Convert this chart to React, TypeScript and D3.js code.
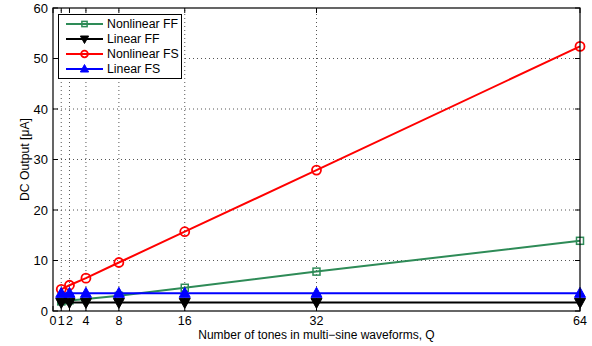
import React from "react";
import * as d3 from "d3";

const xValues = [1, 2, 4, 8, 16, 32, 64];
const nonlinearFF = [1.9, 2.1, 2.4, 3.0, 4.6, 7.8, 13.9];
const linearFF = [1.7, 1.7, 1.7, 1.7, 1.7, 1.7, 1.7];
const nonlinearFS = [4.3, 5.1, 6.5, 9.6, 15.7, 27.9, 52.4];
const linearFS = [3.5, 3.5, 3.5, 3.5, 3.5, 3.5, 3.5];
const xTicks = [0, 1, 2, 4, 8, 16, 32, 64];
const yTicks = [0, 10, 20, 30, 40, 50, 60];
const seriesNames = ["Nonlinear FF", "Linear FF", "Nonlinear FS", "Linear FS"];

const W = 592, H = 346;
const m = { left: 53, right: 12, top: 8, bottom: 35 };

export default function App() {
  const x = d3.scaleLinear().domain([0, 64]).range([m.left, W - m.right]);
  const y = d3.scaleLinear().domain([0, 60]).range([H - m.bottom, m.top]);
  const line = d3.line<[number, number]>().x(d => x(d[0])).y(d => y(d[1]));
  const series = [
    { name: seriesNames[0], vals: nonlinearFF, color: "#2e8b57", marker: "square" },
    { name: seriesNames[1], vals: linearFF, color: "#000000", marker: "down" },
    { name: seriesNames[2], vals: nonlinearFS, color: "#ff0000", marker: "circle" },
    { name: seriesNames[3], vals: linearFS, color: "#0000ff", marker: "up" },
  ];
  const font = "Liberation Sans, Arial, sans-serif";
  const marker = (type: string, cx: number, cy: number, color: string, key: string, s = 1) => {
    if (type === "square") return <rect key={key} x={cx - 3.5 * s} y={cy - 3.5 * s} width={7 * s} height={7 * s} fill="none" stroke={color} strokeWidth={1.5} />;
    if (type === "circle") return <circle key={key} cx={cx} cy={cy} r={4.5 * s} fill="none" stroke={color} strokeWidth={1.8} />;
    if (type === "up") return <path key={key} d={`M${cx},${cy - 6 * s}L${cx + 5.5 * s},${cy + 4 * s}L${cx - 5.5 * s},${cy + 4 * s}Z`} fill={color} stroke={color} strokeWidth={1} />;
    return <path key={key} d={`M${cx},${cy + 6 * s}L${cx + 5.5 * s},${cy - 4 * s}L${cx - 5.5 * s},${cy - 4 * s}Z`} fill={color} stroke={color} strokeWidth={1} />;
  };
  const x0 = m.left, x1 = W - m.right, y0 = H - m.bottom, y1 = m.top;
  return (
    <svg width={W} height={H} style={{ position: "absolute", left: 0, top: 0 }} fontFamily={font}>
      <rect x={0} y={0} width={W} height={H} fill="#fff" />
      {/* grid */}
      {yTicks.filter(t => t > 0 && t < 60).map(t => (
        <line key={"gy" + t} x1={x0} x2={x1} y1={y(t)} y2={y(t)} stroke="#555" strokeWidth={1} strokeDasharray="1,3" />
      ))}
      {xTicks.filter(t => t > 0 && t < 64).map(t => (
        <line key={"gx" + t} x1={x(t)} x2={x(t)} y1={y0} y2={y1} stroke="#555" strokeWidth={1} strokeDasharray="1,3" />
      ))}
      {/* ticks */}
      {yTicks.map(t => (
        <g key={"ty" + t}>
          <line x1={x0} x2={x0 + 5} y1={y(t)} y2={y(t)} stroke="#000" />
          <line x1={x1} x2={x1 - 5} y1={y(t)} y2={y(t)} stroke="#000" />
          <text x={x0 - 5} y={y(t)} dy="0.35em" textAnchor="end" fontSize={13}>{t}</text>
        </g>
      ))}
      {xTicks.map(t => (
        <g key={"tx" + t}>
          <line x1={x(t)} x2={x(t)} y1={y0} y2={y0 - 5} stroke="#000" />
          <line x1={x(t)} x2={x(t)} y1={y1} y2={y1 + 5} stroke="#000" />
          <text x={x(t)} y={y0 + 14} textAnchor="middle" fontSize={12.5}>{t}</text>
        </g>
      ))}
      {/* series */}
      {series.map(s => {
        const pts = xValues.map((xv, i) => [xv, s.vals[i]] as [number, number]);
        return (
          <g key={s.name}>
            <path d={line(pts) || ""} fill="none" stroke={s.color} strokeWidth={2} />
            {pts.map((p, i) => marker(s.marker, x(p[0]), y(p[1]), s.color, s.name + i))}
          </g>
        );
      })}
      <rect x={x0} y={y1} width={x1 - x0} height={y0 - y1} fill="none" stroke="#000" strokeWidth={1.2} />
      {/* legend */}
      <g>
        <rect x={58.5} y={14.5} width={123} height={64} fill="#fff" stroke="#000" strokeWidth={1} />
        {series.map((s, i) => {
          const ly = 24 + i * 15;
          return (
            <g key={"lg" + s.name}>
              <line x1={66} x2={103} y1={ly} y2={ly} stroke={s.color} strokeWidth={2} />
              {marker(s.marker, 84.5, ly, s.color, "lm" + i, 0.75)}
              <text x={107} y={ly} dy="0.35em" fontSize={12.3}>{s.name}</text>
            </g>
          );
        })}
      </g>
      <text x={(x0 + x1) / 2} y={339} textAnchor="middle" fontSize={12}>Number of tones in multi−sine waveforms, Q</text>
      <text transform={`translate(29,${(y0 + y1) / 2}) rotate(-90)`} textAnchor="middle" fontSize={12.2}>DC Output [μA]</text>
    </svg>
  );
}
